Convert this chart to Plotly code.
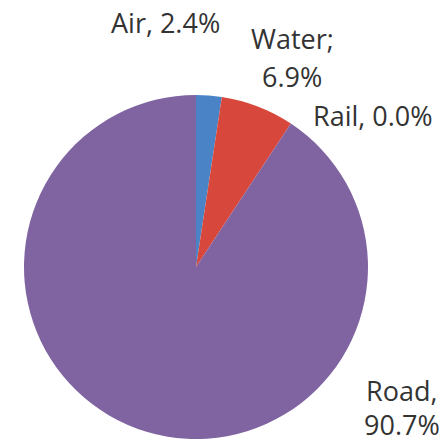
import plotly.graph_objects as go

# Freight modal split
modes = ["Air", "Water", "Rail", "Road"]
shares = [2.4, 6.9, 0.0, 90.7]
separators = [", ", "; ", ", ", ", "]
colors = ["#4a84c6", "#d8473c", "#9bbb59", "#8064a2"]

# label anchor points (pixels from top-left) for each line of text
label_lines = {
    "Air": [(165, 22)],
    "Water": [(292, 38), (292, 77)],
    "Rail": [(373, 115)],
    "Road": [(401, 390), (402, 424)],
}

W, H = 444, 443
cx, cy, r = 196, 267, 172

fig = go.Figure(go.Pie(
    labels=modes,
    values=shares,
    marker=dict(colors=colors, line=dict(width=0)),
    sort=False,
    direction="clockwise",
    rotation=0,
    textinfo="none",
    hoverinfo="label+percent",
    showlegend=False,
    domain=dict(x=[(cx - r) / W, (cx + r) / W],
                y=[(H - cy - r) / H, (H - cy + r) / H]),
))

font = dict(family="Open Sans", size=27, color="#333333")
for mode, share, sep in zip(modes, shares, separators):
    pts = label_lines[mode]
    if len(pts) == 1:
        texts = [f"{mode}{sep}{share:.1f}%"]
    else:
        texts = [f"{mode}{sep.strip()}", f"{share:.1f}%"]
    for (x, y), t in zip(pts, texts):
        fig.add_annotation(x=x / W, y=1 - y / H, xref="paper", yref="paper",
                           text=t, showarrow=False, font=font, borderpad=0,
                           xanchor="center", yanchor="middle")

fig.update_layout(
    width=W, height=H,
    margin=dict(l=0, r=0, t=0, b=0),
    paper_bgcolor="white",
    plot_bgcolor="white",
)

fig.write_html("out.html")
